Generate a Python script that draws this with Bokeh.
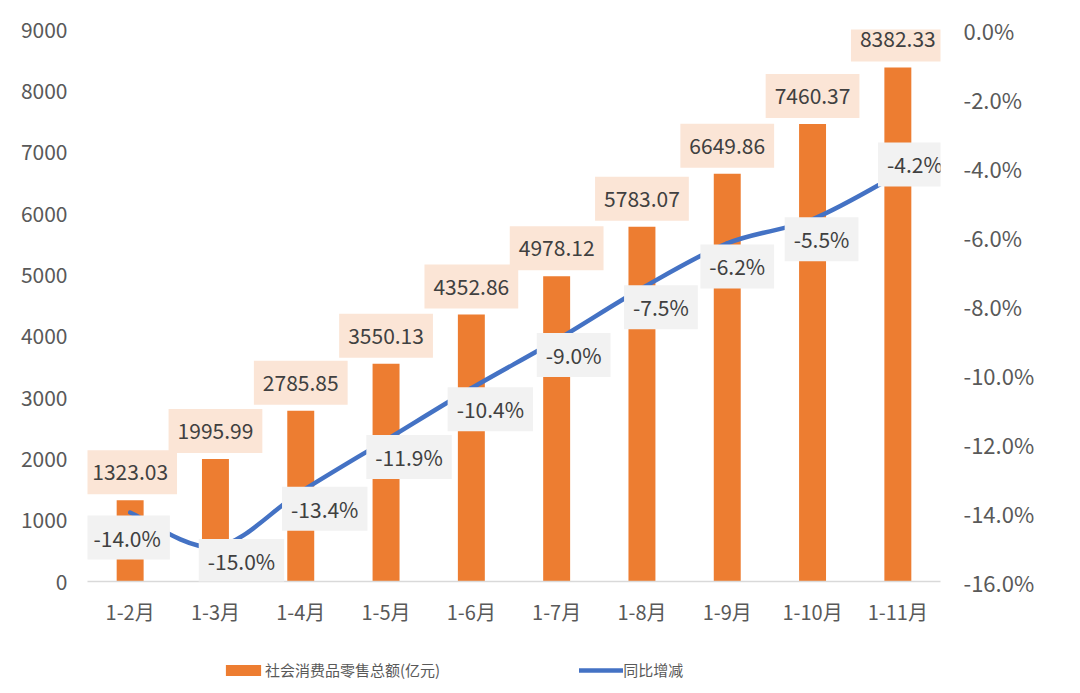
from bokeh.plotting import figure
from bokeh.layouts import column
from bokeh.models import (Range1d, LinearAxis, FixedTicker, PrintfTickFormatter,
                          Label, Legend, LegendItem, ColumnDataSource)
from bokeh.embed import file_html
from bokeh.resources import INLINE

# ---- data ----
categories = ["1-2月", "1-3月", "1-4月", "1-5月", "1-6月", "1-7月", "1-8月", "1-9月", "1-10月", "1-11月"]
sales = [1323.03, 1995.99, 2785.85, 3550.13, 4352.86, 4978.12, 5783.07, 6649.86, 7460.37, 8382.33]
yoy = [-14.0, -15.0, -13.4, -11.9, -10.4, -9.0, -7.5, -6.2, -5.5, -4.2]
left_ticks = [0, 1000, 2000, 3000, 4000, 5000, 6000, 7000, 8000, 9000]
right_ticks = [-16, -14, -12, -10, -8, -6, -4, -2, 0]
series_names = ["社会消费品零售总额(亿元)", "同比增减"]

# ---- styles ----
FONT = "Noto Sans CJK SC"
BAR_COLOR = "#ED7D31"
LINE_COLOR = "#4472C4"
AXIS_TEXT = "#595959"
LABEL_TEXT = "#404040"
# screen offsets of line labels (style only)
line_lab_dx = [-3, 26, 24, 23, 19, 17, 19, 10, 9, 17]
line_lab_dy = [-25, -14, -17, -17, -21, -15, -19, -23, -20, 10]

xs = list(range(len(categories)))

p = figure(width=1072, height=640, x_range=Range1d(-0.5, len(categories) - 0.5),
           y_range=Range1d(0, 9000), output_backend="svg", toolbar_location=None,
           min_border_left=87, min_border_right=132, min_border_top=29, min_border_bottom=59)
p.outline_line_color = None
p.xgrid.visible = False
p.ygrid.visible = False
p.background_fill_color = "white"

p.extra_y_ranges = {"pct": Range1d(-16, 0)}

# bars
bar_src = ColumnDataSource(dict(x=xs, top=sales))
bars = p.vbar(x="x", top="top", width=0.316, source=bar_src, fill_color=BAR_COLOR,
              line_color=None)

# smooth line via bezier segments computed from the data points
x0, y0, x1, y1, cx0, cy0, cx1, cy1 = [], [], [], [], [], [], [], []
n = len(yoy)
for i in range(n - 1):
    ip = max(i - 1, 0)
    inx = min(i + 2, n - 1)
    x0.append(xs[i]); y0.append(yoy[i])
    x1.append(xs[i + 1]); y1.append(yoy[i + 1])
    cx0.append(xs[i] + (xs[i + 1] - xs[ip]) / 6.0)
    cy0.append(yoy[i] + (yoy[i + 1] - yoy[ip]) / 6.0)
    cx1.append(xs[i + 1] - (xs[inx] - xs[i]) / 6.0)
    cy1.append(yoy[i + 1] - (yoy[inx] - yoy[i]) / 6.0)
bz = p.bezier(x0=x0, y0=y0, x1=x1, y1=y1, cx0=cx0, cy0=cy0, cx1=cx1, cy1=cy1,
              line_color=LINE_COLOR, line_width=4.5, line_cap="round", y_range_name="pct")

# axes
xa = p.xaxis[0]
xa.ticker = FixedTicker(ticks=xs)
xa.major_label_overrides = {i: c for i, c in zip(xs, categories)}
xa.major_tick_line_color = None
xa.minor_tick_line_color = None
xa.major_tick_out = 0
xa.major_tick_in = 0
xa.axis_line_color = "#D9D9D9"
xa.axis_line_width = 1.5
xa.major_label_text_font = FONT
xa.major_label_text_font_size = "20px"
xa.major_label_text_color = AXIS_TEXT
xa.major_label_standoff = 15

ya = p.yaxis[0]
ya.ticker = FixedTicker(ticks=left_ticks)
ya.formatter = PrintfTickFormatter(format="%d")
ya.axis_line_color = None
ya.major_tick_line_color = None
ya.minor_tick_line_color = None
ya.major_tick_out = 0
ya.major_tick_in = 0
ya.major_label_text_font = FONT
ya.major_label_text_font_size = "21px"
ya.major_label_text_color = AXIS_TEXT
ya.major_label_standoff = 20

ra = LinearAxis(y_range_name="pct", ticker=FixedTicker(ticks=right_ticks),
                formatter=PrintfTickFormatter(format="%.1f%%"))
ra.axis_line_color = None
ra.major_tick_line_color = None
ra.minor_tick_line_color = None
ra.major_tick_out = 0
ra.major_tick_in = 0
ra.major_label_text_font = FONT
ra.major_label_text_font_size = "22px"
ra.major_label_text_color = AXIS_TEXT
ra.major_label_standoff = 23
p.add_layout(ra, "right")

# bar value labels
for i, v in enumerate(sales):
    p.add_layout(Label(x=xs[i], y=v, y_offset=28, text=f"{v:.2f}", text_align="center",
                       text_baseline="middle", text_font=FONT, text_font_size="21px",
                       text_color=LABEL_TEXT, background_fill_color="#FBE5D6",
                       padding=dict(x=9, y=14)))

# line value labels
for i, v in enumerate(yoy):
    p.add_layout(Label(x=xs[i], y=v, y_range_name="pct", x_offset=line_lab_dx[i],
                       y_offset=line_lab_dy[i], text=f"{v:.1f}%", text_align="center",
                       text_baseline="middle", text_font=FONT, text_font_size="21px",
                       text_color=LABEL_TEXT, background_fill_color="#F2F2F2",
                       padding=dict(x=9, y=7)))

# legend strip below the chart (series renderers hidden, only the legend shows)
lf = figure(width=1072, height=45, x_range=Range1d(-0.5, 9.5), y_range=Range1d(-16, 9000),
            output_backend="svg", toolbar_location=None, x_axis_location=None,
            y_axis_location=None, min_border=0)
lf.outline_line_color = None
lf.xgrid.visible = False
lf.ygrid.visible = False
lbars = lf.vbar(x=xs, top=sales, width=0.316, fill_color=BAR_COLOR, line_color=None)
lline = lf.line(x=xs, y=yoy, line_color=LINE_COLOR, line_width=4.5, line_cap="round")
lbars.visible = False
lline.visible = False
leg = Legend(items=[LegendItem(label=series_names[0], renderers=[lbars]),
                    LegendItem(label=series_names[1], renderers=[lline])],
             location=(134, 5), orientation="horizontal", glyph_width=44, glyph_height=14,
             label_standoff=0, spacing=139, padding=0, margin=0, border_line_color=None,
             background_fill_alpha=0, label_text_font=FONT, label_text_font_size="15px",
             label_text_color=AXIS_TEXT, click_policy="none")
lf.add_layout(leg, "center")

open("out.html", "w").write(file_html(column(p, lf), INLINE))
